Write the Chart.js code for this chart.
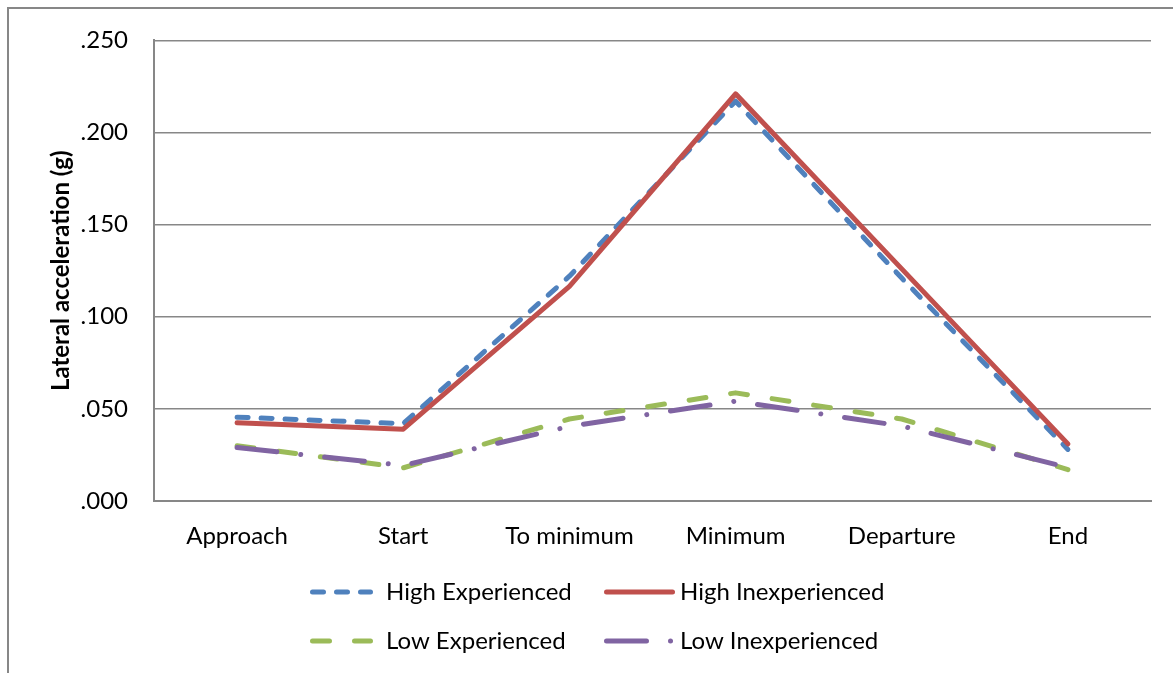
<!DOCTYPE html>
<html>
<head>
<meta charset="utf-8">
<title>Lateral acceleration</title>
<script src="https://cdn.jsdelivr.net/npm/chart.js@4/dist/chart.umd.min.js"></script>
<style>
  html, body { margin: 0; padding: 0; background: #fff; }
  #wrap { width: 1173px; height: 673px; }
</style>
</head>
<body>
<div id="wrap"><canvas id="chart" width="1173" height="673"></canvas></div>
<script>
// Phases of the manoeuvre
const categories = ['Approach', 'Start', 'To minimum', 'Minimum', 'Departure', 'End'];

// Mean lateral acceleration (g) per group
const highExperienced   = [0.0455, 0.0420, 0.1220, 0.2170, 0.1210, 0.0280];
const highInexperienced = [0.0425, 0.0390, 0.1165, 0.2210, 0.1260, 0.0310];
const lowExperienced    = [0.0300, 0.0180, 0.0445, 0.0587, 0.0445, 0.0170];
const lowInexperienced  = [0.0290, 0.0193, 0.0405, 0.0542, 0.0407, 0.0182];

const seriesNames = ['High Experienced', 'High Inexperienced', 'Low Experienced', 'Low Inexperienced'];

// Y axis ticks
const yTicks = [0, 0.05, 0.10, 0.15, 0.20, 0.25];

const FONT = 'Lato, "Open Sans", sans-serif';
const AXIS_GREY = '#878787';

// Chart frame drawn behind everything
const framePlugin = {
  id: 'frame',
  beforeDraw(chart) {
    const ctx = chart.ctx;
    ctx.save();
    ctx.fillStyle = '#ffffff';
    ctx.fillRect(0, 0, chart.width, chart.height);
    ctx.strokeStyle = AXIS_GREY;
    ctx.lineWidth = 2;
    ctx.strokeRect(8, 8, chart.width + 20, chart.height + 20);
    ctx.restore();
  }
};

// Two-column legend below the plot with line samples
const lineLegendPlugin = {
  id: 'lineLegend',
  afterDraw(chart) {
    const ctx = chart.ctx;
    const cols = [{ x0: 310, x1: 373, tx: 386 }, { x0: 604, x1: 675, tx: 680 }];
    const rows = [592, 641];
    ctx.save();
    ctx.font = '24px ' + FONT;
    ctx.textBaseline = 'middle';
    ctx.textAlign = 'left';
    chart.data.datasets.forEach((ds, i) => {
      const c = cols[i % 2];
      const y = rows[Math.floor(i / 2)];
      const w = ds.borderWidth;
      ctx.beginPath();
      ctx.strokeStyle = ds.borderColor;
      ctx.lineWidth = w;
      ctx.lineCap = 'round';
      ctx.setLineDash(ds.borderDash || []);
      ctx.lineDashOffset = 0;
      ctx.moveTo(c.x0 + w / 2, y);
      ctx.lineTo(c.x1 - w / 2, y);
      ctx.stroke();
      ctx.setLineDash([]);
      ctx.fillStyle = '#000';
      ctx.fillText(ds.label, c.tx, y);
    });
    ctx.restore();
  }
};

const lineStyle = (color, dash, order) => ({
  borderColor: color,
  backgroundColor: color,
  borderWidth: 5,
  borderDash: dash,
  borderCapStyle: 'round',
  borderJoinStyle: 'round',
  pointRadius: 0,
  pointHoverRadius: 0,
  tension: 0,
  fill: false,
  order: order
});

new Chart(document.getElementById('chart'), {
  type: 'line',
  data: {
    labels: categories,
    datasets: [
      { label: seriesNames[0], data: highExperienced,   ...lineStyle('#4F81BD', [11, 13], 4) },
      { label: seriesNames[1], data: highInexperienced, ...lineStyle('#C0504D', [], 3) },
      { label: seriesNames[2], data: lowExperienced,    ...lineStyle('#9BBB59', [17, 25], 2) },
      { label: seriesNames[3], data: lowInexperienced,  ...lineStyle('#8064A2', [40, 24, 0.01, 24], 1) }
    ]
  },
  options: {
    responsive: false,
    animation: false,
    events: [],
    layout: { padding: { top: 38, right: 22, bottom: 100, left: 0 } },
    plugins: {
      legend: { display: false },
      tooltip: { enabled: false }
    },
    scales: {
      x: {
        offset: true,
        grid: { display: false, drawTicks: false },
        border: { display: true, color: AXIS_GREY, width: 2 },
        ticks: { color: '#000', font: { family: FONT, size: 24 }, padding: 21, maxRotation: 0 },
        afterFit(scale) { scale.height = 72; }
      },
      y: {
        min: 0,
        max: 0.25,
        afterBuildTicks(scale) { scale.ticks = yTicks.map(v => ({ value: v })); },
        grid: { color: AXIS_GREY, lineWidth: 1.5, drawTicks: false },
        border: { display: true, color: AXIS_GREY, width: 2 },
        ticks: {
          color: '#000',
          font: { family: FONT, size: 24 },
          padding: 26,
          callback: v => v.toFixed(3).replace(/^0/, '')
        },
        title: {
          display: true,
          text: 'Lateral acceleration (g)',
          color: '#000',
          font: { family: FONT, size: 24, weight: 'bold' },
          padding: { top: 47, bottom: 0 }
        },
        afterFit(scale) { scale.width = 154; }
      }
    }
  },
  plugins: [framePlugin, lineLegendPlugin]
});
</script>
</body>
</html>
